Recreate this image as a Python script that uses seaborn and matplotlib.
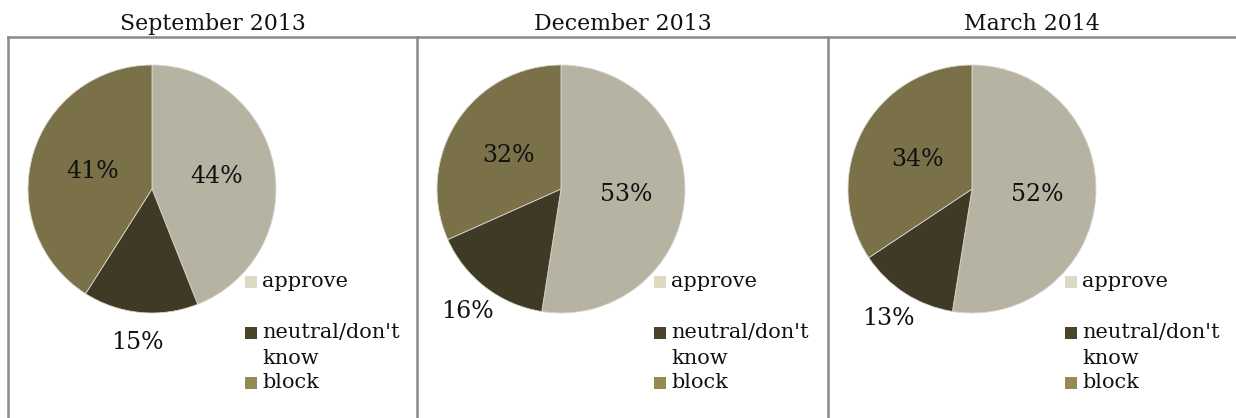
import numpy as np
import seaborn as sns
import matplotlib.pyplot as plt
from matplotlib.patches import Rectangle

# survey results, percent
periods = ['September 2013', 'December 2013', 'March 2014']
categories = ['approve', 'neutral/don\'t\nknow', 'block']
approve = [44, 53, 52]
neutral = [15, 16, 13]
block = [41, 32, 34]

pie_colors = ['#b6b3a2', '#3e3a25', '#7a7149']
legend_colors = ['#ddd9c3', '#4a452a', '#948a54']

sns.set_theme(style='white')
plt.rcParams['font.family'] = ['DejaVu Serif']

W, H = 1236, 418
fig = plt.figure(figsize=(W / 100, H / 100), dpi=100)
fig.patch.set_facecolor('white')


def px_box(x0, y0, x1, y1):
    # pixel box (top-left origin) -> figure fraction rect
    return [x0 / W, 1 - y1 / H, (x1 - x0) / W, (y1 - y0) / H]


frame_edges = [8, 417, 828, 1236]
top = 37
R = 124
pad = 1.3

for i, period in enumerate(periods):
    left, right = frame_edges[i], frame_edges[i + 1]

    # panel frame
    fax = fig.add_axes(px_box(left, top, right, H))
    fax.set_xticks([])
    fax.set_yticks([])
    fax.set_facecolor('none')
    for side in ['right', 'bottom']:
        fax.spines[side].set_visible(False)
    for side in ['left', 'top']:
        fax.spines[side].set_color('#8a8a8a')
        fax.spines[side].set_linewidth(1.8)
    fax.set_title(period, fontsize=15.8, pad=5, color='#111111')

    # pie
    cx, cy = left + 144, 189
    r_px = R * pad
    ax = fig.add_axes(px_box(cx - r_px, cy - r_px, cx + r_px, cy + r_px))
    vals = [approve[i], neutral[i], block[i]]
    wedges, _ = ax.pie(vals, colors=pie_colors, startangle=90, counterclock=False,
                       radius=1, wedgeprops=dict(linewidth=0.6, edgecolor='#d8d6cc'))
    ax.set_xlim(-pad, pad)
    ax.set_ylim(-pad, pad)
    ax.set_aspect('equal')
    ax.axis('off')

    dist = [0.53, 1.24, 0.5]
    for w, v, d in zip(wedges, vals, dist):
        mid = np.deg2rad((w.theta1 + w.theta2) / 2)
        ax.text(d * np.cos(mid), d * np.sin(mid), f'{v}%', ha='center', va='center',
                fontsize=17, color='#111111')

    # legend
    lx = left + 237
    rows = [282, 333, 383]
    for lab, col, ry in zip(categories, legend_colors, rows):
        fig.patches.append(Rectangle(((lx) / W, 1 - (ry + 6) / H), 12 / W, 12 / H,
                                     transform=fig.transFigure, facecolor=col,
                                     edgecolor='none'))
        fig.text((lx + 17) / W, 1 - (ry - 10) / H, lab, ha='left', va='top',
                 fontsize=15, color='#111111', linespacing=1.45)

fig.savefig('out.png', dpi=100, facecolor='white')
